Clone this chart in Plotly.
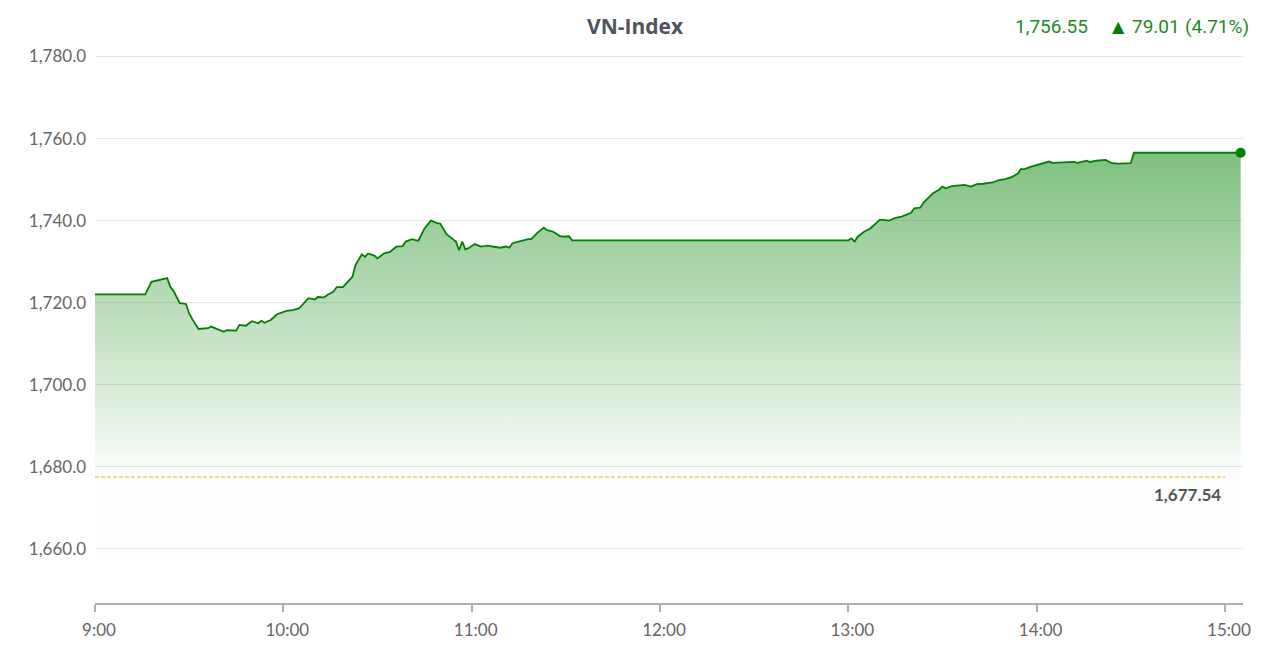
import plotly.graph_objects as go

# ---- data ----
DAY = "2025-01-01 "
times = [
    "09:00", "09:16", "09:18", "09:20", "09:23", "09:24", "09:25", "09:27", "09:29", "09:30",
    "09:31", "09:33", "09:36", "09:37", "09:39", "09:41", "09:42", "09:45", "09:46", "09:48",
    "09:50", "09:52", "09:53", "09:54", "09:56", "09:58", "10:01", "10:03", "10:05", "10:08",
    "10:10", "10:11", "10:13", "10:14", "10:16", "10:17", "10:19", "10:22", "10:23", "10:25",
    "10:26", "10:27", "10:29", "10:30", "10:32", "10:34", "10:36", "10:38", "10:39", "10:41",
    "10:43", "10:45", "10:47", "10:49", "10:50", "10:52", "10:54", "10:55", "10:56", "10:57",
    "10:58", "10:59", "11:01", "11:03", "11:05", "11:06", "11:09", "11:11", "11:12", "11:13",
    "11:16", "11:18", "11:19", "11:21", "11:23", "11:24", "11:26", "11:28", "11:29", "11:31",
    "11:32", "13:00", "13:01", "13:02", "13:03", "13:05", "13:07", "13:10", "13:11", "13:13",
    "13:15", "13:17", "13:20", "13:21", "13:23", "13:24", "13:27", "13:29", "13:30", "13:31",
    "13:33", "13:34", "13:37", "13:39", "13:41", "13:43", "13:46", "13:48", "13:50", "13:52",
    "13:54", "13:55", "13:56", "13:58", "14:01", "14:04", "14:05", "14:09", "14:12", "14:13",
    "14:16", "14:17", "14:19", "14:22", "14:24", "14:26", "14:30", "14:31", "15:05",
]
values = [
    1722.05, 1722.05, 1725.1, 1725.4, 1726.0, 1723.9, 1722.9, 1719.9, 1719.7, 1717.4,
    1716.0, 1713.6, 1713.8, 1714.2, 1713.6, 1712.9, 1713.3, 1713.2, 1714.6, 1714.4,
    1715.5, 1715.0, 1715.6, 1715.1, 1715.8, 1717.2, 1718.0, 1718.2, 1718.6, 1721.1,
    1720.8, 1721.4, 1721.3, 1721.9, 1722.7, 1723.8, 1723.8, 1726.3, 1729.2, 1731.8,
    1731.2, 1732.0, 1731.5, 1730.8, 1732.0, 1732.4, 1733.7, 1733.8, 1734.9, 1735.5,
    1735.1, 1738.1, 1740.0, 1739.4, 1739.3, 1736.7, 1735.5, 1734.9, 1732.8, 1734.9,
    1733.0, 1733.3, 1734.3, 1733.7, 1733.9, 1733.8, 1733.4, 1733.7, 1733.4, 1734.5,
    1735.1, 1735.5, 1735.5, 1737.1, 1738.3, 1737.7, 1737.3, 1736.3, 1736.1, 1736.2,
    1735.2, 1735.2, 1735.7, 1734.9, 1736.1, 1737.3, 1738.1, 1740.2, 1740.2, 1740.0,
    1740.7, 1741.0, 1741.9, 1743.0, 1743.2, 1744.4, 1746.7, 1747.6, 1748.3, 1747.9,
    1748.4, 1748.5, 1748.7, 1748.3, 1748.9, 1749.0, 1749.3, 1749.9, 1750.1, 1750.6,
    1751.5, 1752.6, 1752.5, 1753.1, 1753.8, 1754.4, 1754.1, 1754.3, 1754.3, 1754.1,
    1754.6, 1754.3, 1754.6, 1754.8, 1754.0, 1753.9, 1754.0, 1756.55, 1756.55,
]
ref_value = 1677.54
ref_label = "1,677.54"
last_text = "1,756.55"
change_text = "79.01"
pct_text = "(4.71%)"
title_text = "VN-Index"
x_tick_times = ["09:00", "10:00", "11:00", "12:00", "13:00", "14:00", "15:00"]
x_tick_labels = ["9:00", "10:00", "11:00", "12:00", "13:00", "14:00", "15:00"]
y_ticks = [1660, 1680, 1700, 1720, 1740, 1760, 1780]

xs = [DAY + t for t in times]

GREEN = "#008000"
TEXT_GREEN = "#1f8a1f"
TICK_FONT = dict(family="Lato, sans-serif", size=17, color="#666666")
HEAD_FONT = dict(family="Roboto, sans-serif", size=19, color=TEXT_GREEN)

fig = go.Figure()

fig.add_trace(go.Scatter(
    x=xs, y=values, mode="lines",
    line=dict(color=GREEN, width=1.8),
    fill="tozeroy",
    fillgradient=dict(
        type="vertical",
        start=1646.84, stop=values[-1],
        colorscale=[[0.0, "rgba(0,128,0,0.0)"], [0.28, "rgba(0,128,0,0.015)"],
                    [1.0, "rgba(0,128,0,0.5)"]],
    ),
    hoverinfo="skip",
))

fig.add_trace(go.Scatter(
    x=[xs[-1]], y=[values[-1]], mode="markers",
    marker=dict(color=GREEN, size=10),
    cliponaxis=False,
    hoverinfo="skip",
))

fig.add_shape(
    type="line", xref="x", yref="y",
    x0=DAY + x_tick_times[0], x1=DAY + x_tick_times[-1], y0=ref_value, y1=ref_value,
    line=dict(color="#f2a724", width=1, dash="4px,2px"),
)

fig.add_annotation(
    x=DAY + x_tick_times[-1], y=ref_value, xref="x", yref="y",
    text="<b>" + ref_label + "</b>", showarrow=False,
    xanchor="right", yanchor="middle", yshift=-17, xshift=-2,
    font=dict(family="Lato, sans-serif", size=17, color="#555555"),
)

fig.add_annotation(
    x=0.4704, y=1.0249, xref="paper", yref="paper",
    text="<b>" + title_text + "</b>", showarrow=False,
    xanchor="center", yanchor="middle",
    font=dict(family="Open Sans, sans-serif", size=21, color="#50545c"),
)
fig.add_annotation(
    x=0.8667, y=1.0231, xref="paper", yref="paper",
    text=last_text, showarrow=False, xanchor="right", yanchor="middle",
    font=HEAD_FONT,
)
fig.add_annotation(
    x=0.8841, y=1.0231, xref="paper", yref="paper",
    text="▲", showarrow=False, xanchor="left", yanchor="middle",
    font=dict(family="DejaVu Sans, sans-serif", size=16, color=GREEN),
)
fig.add_annotation(
    x=0.9016, y=1.0231, xref="paper", yref="paper",
    text=change_text, showarrow=False, xanchor="left", yanchor="middle",
    font=HEAD_FONT,
)
fig.add_annotation(
    x=1.0070, y=1.0231, xref="paper", yref="paper",
    text=pct_text, showarrow=False, xanchor="right", yanchor="middle",
    font=HEAD_FONT,
)

# page body has an 8px margin: figure is shrunk / shifted to compensate
fig.update_layout(
    width=1266, height=643,
    margin=dict(l=87, r=31, t=32, b=48),
    paper_bgcolor="white", plot_bgcolor="white",
    showlegend=False, hovermode=False,
)

fig.update_xaxes(
    type="date",
    range=[DAY + "09:00", DAY + "15:05:45"],
    tickvals=[DAY + t for t in x_tick_times], ticktext=x_tick_labels,
    showgrid=False, zeroline=False,
    showline=True, linecolor="#b0b0b0", linewidth=2,
    ticks="outside", ticklen=7, tickwidth=1.5, tickcolor="#b0b0b0",
    tickfont=TICK_FONT, ticklabelstandoff=4, ticklabelshift=4,
)
fig.update_yaxes(
    range=[1646.84, 1784.02],
    tickvals=y_ticks, tickformat=",.1f",
    showgrid=True, gridcolor="#e6e6e6", gridwidth=1,
    zeroline=False, showline=False, ticks="",
    tickfont=TICK_FONT, ticklabelstandoff=8,
)

fig.write_html("out.html")
